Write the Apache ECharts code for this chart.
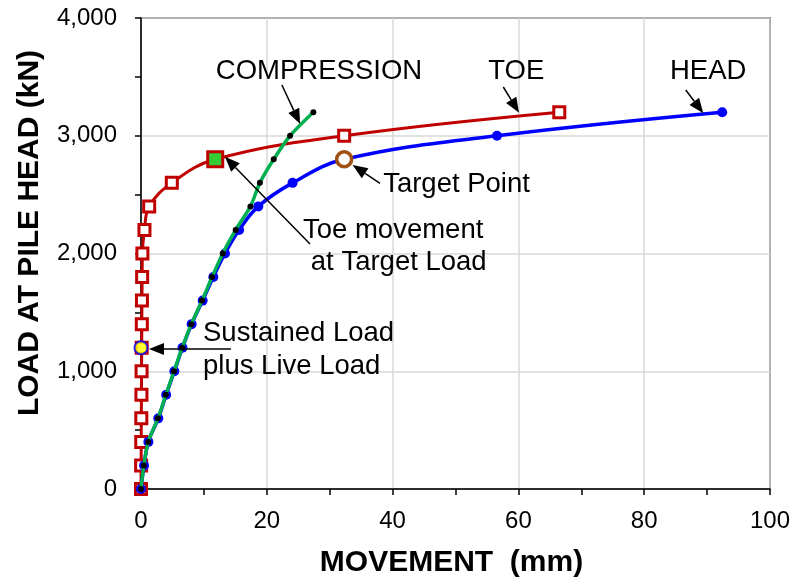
<!DOCTYPE html>
<html><head><meta charset="utf-8">
<script src="https://cdn.jsdelivr.net/npm/echarts/dist/echarts.min.js"></script>
<style>html,body{margin:0;padding:0;background:#fff}#c{width:794px;height:579px}</style>
</head><body><div id="c"></div>
<script>
// ---- data (movement in mm, load in kN) ----
const loads     = [0,200,400,600,800,1000,1200,1400,1600,1800,2000,2200,2400,2600,2800,3000,3200];
const toeMove   = [0,0.02,0.04,0.05,0.07,0.09,0.11,0.13,0.15,0.18,0.22,0.55,1.3,4.9,11.8,32.3,66.5];
const headMove  = [0,0.48,1.17,2.75,4.0,5.3,6.6,8.05,9.8,11.5,13.35,15.6,18.65,24.1,32.3,56.6,92.4];
const compMove  = [0,0.45,1.15,2.7,3.95,5.25,6.55,8.0,9.7,11.3,13.0,15.05,17.4,18.9,21.1,23.7,27.4];
const targetLoad = 2800;
const sustainedPoint = [0, 1200];
const xTicks = [0,20,40,60,80,100];
const yTicks = [0,1000,2000,3000,4000];
// annotation texts: [text, x(mm), y(kN)] (left / middle anchored)
const noteTexts = [
  ['COMPRESSION', 11.9, 3545],
  ['TOE', 55.2, 3545],
  ['HEAD', 84.1, 3550],
  ['Target Point', 38.5, 2590],
  ['Toe movement', 25.75, 2200],
  ['at Target Load', 27.0, 1928],
  ['Sustained Load', 9.86, 1325],
  ['plus Live Load', 9.86, 1045]
];
// arrows: [tailX, tailY, tipX, tipY]
const noteArrows = [
  [22.4, 3431, 25.3, 3100],
  [57.6, 3414, 60.1, 3196],
  [86.6, 3389, 89.4, 3191],
  [38.0, 2596, 33.65, 2752],
  [26.87, 2081, 13.35, 2822],
  [14.3, 1189, 1.27, 1189]
];

const FONT = '"Liberation Sans", Arial, sans-serif';
const chart = echarts.init(document.getElementById('c'), null, {renderer:'canvas'});
const ti = loads.indexOf(targetLoad);

const toeData = loads.map((l,i) => i === ti
  ? {value:[toeMove[i], l], symbolSize:15, itemStyle:{color:'#33cc33', borderColor:'#c00000', borderWidth:3}}
  : [toeMove[i], l]);
const headData = loads.map((l,i) => i === ti
  ? {value:[headMove[i], l], symbolSize:15, itemStyle:{color:'#ffffff', borderColor:'#a0500f', borderWidth:3.5}}
  : [headMove[i], l]);
const compData = loads.map((l,i) => [compMove[i], l]);

const axisCommon = {
  axisLine:{show:true, onZero:false, lineStyle:{color:'#000', width:1.5}},
  axisTick:{show:true, inside:false, length:6, lineStyle:{color:'#000', width:1.5}},
  minorTick:{show:true, splitNumber:2, length:6, lineStyle:{color:'#000', width:1.5}},
  splitLine:{show:true, lineStyle:{color:'#d9d9d9', width:1.5}},
  minorSplitLine:{show:false}
};

chart.setOption({
  animation:false,
  backgroundColor:'#fff',
  grid:{left:141, right:24, top:18, bottom:90, show:true, borderColor:'#000', borderWidth:1.5, backgroundColor:'transparent'},
  xAxis:Object.assign({type:'value', min:xTicks[0], max:xTicks[xTicks.length-1], interval:xTicks[1]-xTicks[0],
    axisLabel:{fontSize:24, color:'#000', fontFamily:FONT, margin:20}}, axisCommon),
  yAxis:Object.assign({type:'value', min:yTicks[0], max:yTicks[yTicks.length-1], interval:yTicks[1]-yTicks[0],
    axisLabel:{fontSize:24, color:'#000', fontFamily:FONT, margin:24,
      formatter:v => v.toLocaleString('en-US')}}, axisCommon),
  series:[
    {name:'TOE', type:'line', data:toeData, smooth:0.4, clip:false,
     lineStyle:{color:'#c00000', width:3}, symbol:'rect', symbolSize:11,
     itemStyle:{color:'#ffffff', borderColor:'#c00000', borderWidth:3}, z:2},
    {name:'HEAD', type:'line', data:headData, smooth:0.4, clip:false,
     lineStyle:{color:'#0000ff', width:3.5}, symbol:'circle', symbolSize:10,
     itemStyle:{color:'#0000ff'}, z:3},
    {name:'COMPRESSION', type:'line', data:compData, smooth:0.3, clip:false,
     lineStyle:{color:'#00b050', width:3.5}, symbol:'circle', symbolSize:6,
     itemStyle:{color:'#000000'}, z:4},
    {name:'Sustained', type:'scatter', data:[sustainedPoint], clip:false, symbolSize:13,
     itemStyle:{color:'#ffff00', borderColor:'#0000ff', borderWidth:2}, z:5}
  ]
});

function px(p){ return chart.convertToPixel({gridIndex:0}, p); }
const graphics = [];
noteTexts.forEach(([t,x,y]) => {
  const p = px([x,y]);
  graphics.push({type:'text', x:p[0], y:p[1], z:10,
    style:{text:t, fill:'#000', font:'27.5px ' + FONT, textAlign:'left', textVerticalAlign:'middle'}});
});
noteArrows.forEach(([x1,y1,x2,y2]) => {
  const a = px([x1,y1]), b = px([x2,y2]);
  const dx = b[0]-a[0], dy = b[1]-a[1], L = Math.hypot(dx,dy);
  const ux = dx/L, uy = dy/L, hl = 15, hw = 6;
  const bx = b[0]-ux*hl, by = b[1]-uy*hl;
  graphics.push({type:'line', z:10, shape:{x1:a[0], y1:a[1], x2:bx, y2:by}, style:{stroke:'#000', lineWidth:1.5}});
  graphics.push({type:'polygon', z:10, shape:{points:[[b[0],b[1]],[bx-uy*hw, by+ux*hw],[bx+uy*hw, by-ux*hw]]}, style:{fill:'#000'}});
});
// axis titles
const gx0 = px([xTicks[0], 0])[0], gx1 = px([xTicks[xTicks.length-1], 0])[0];
graphics.push({type:'text', x:(gx0+gx1)/2 - 4, y:563, z:10,
  style:{text:'MOVEMENT  (mm)', fill:'#000', font:'bold 30px ' + FONT, textAlign:'center', textVerticalAlign:'middle'}});
graphics.push({type:'text', x:30, y:233, rotation:Math.PI/2, z:10,
  style:{text:'LOAD AT PILE HEAD (kN)', fill:'#000', font:'bold 30px ' + FONT, textAlign:'center', textVerticalAlign:'middle'}});
chart.setOption({graphic:graphics});
</script>
</body></html>
